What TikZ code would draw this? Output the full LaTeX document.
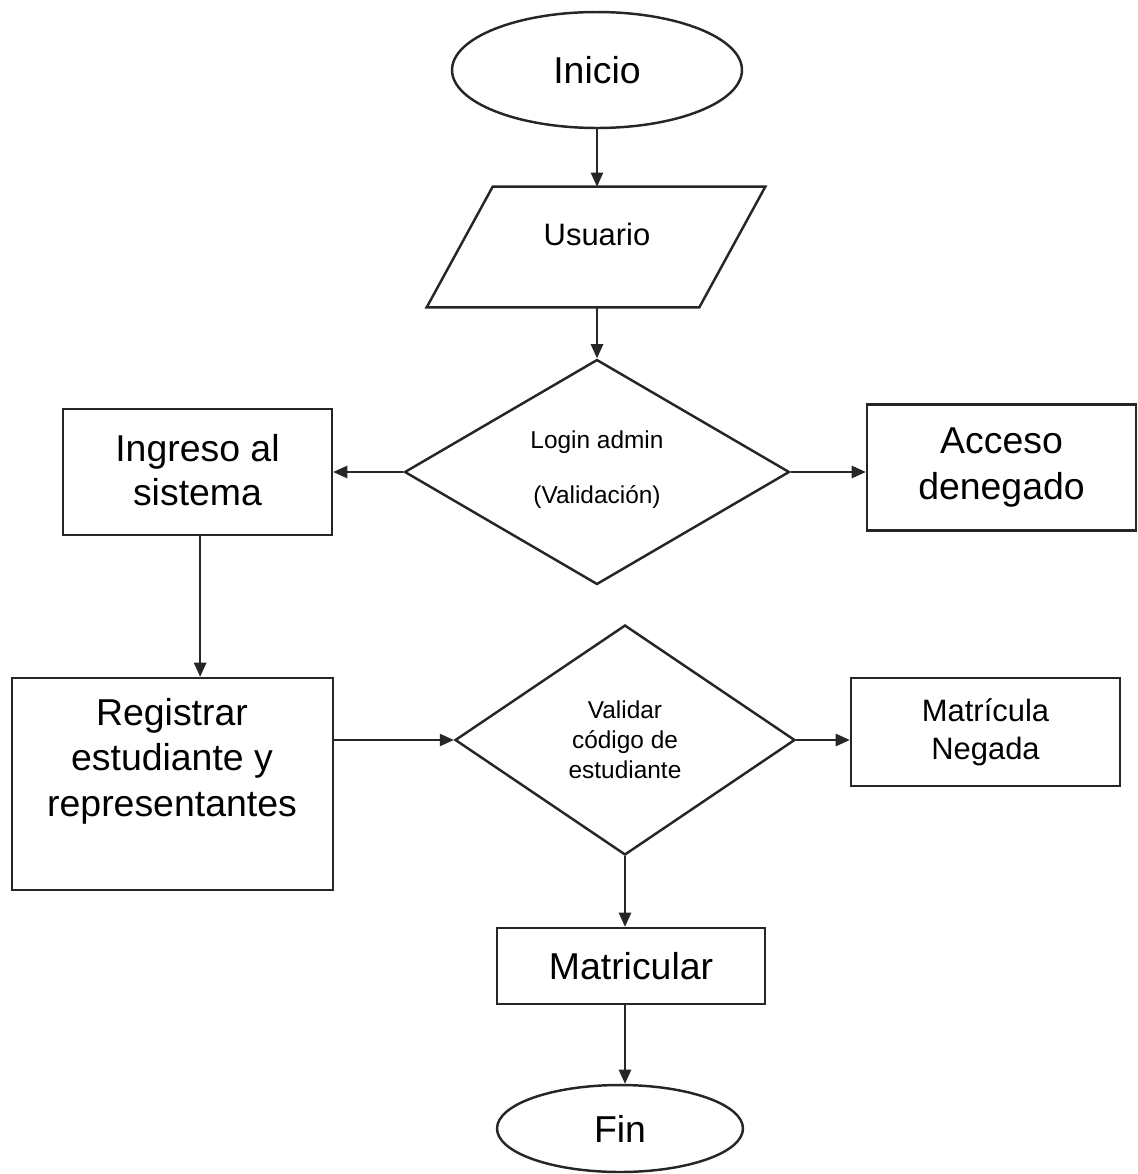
\documentclass[tikz,border=0pt]{standalone}
\usepackage{fontspec}
\setmainfont{Liberation Sans}
\usetikzlibrary{shapes.geometric,arrows.meta,calc}

\tikzset{
  shapeline/.style={draw=black!85, line width=1.4pt},
  terminal/.style={shapeline, ellipse, inner sep=0pt},
  procbox/.style={shapeline, rectangle, inner sep=0pt, align=center},
  decision/.style={shapeline, diamond, inner sep=0pt, align=center},
  bigtext/.style={font=\fontsize{21.3pt}{26pt}\selectfont},
  midtext/.style={font=\fontsize{17.6pt}{21.5pt}\selectfont},
  smalltext/.style={font=\fontsize{13.9pt}{17pt}\selectfont},
  flow/.style={draw=black!85, line width=0.9pt, -{Triangle[length=8pt,width=7pt]}},
}

\begin{document}
\begin{tikzpicture}[x=0.02cm, y=-0.02cm]
  \useasboundingbox (0,0) rectangle (1138,1174);

  % start / end terminals
  \node[terminal, bigtext, minimum width=5.8cm, minimum height=2.32cm] (ini) at (597,70) {Inicio};
  \node[terminal, bigtext, minimum width=4.92cm, minimum height=1.74cm] (fin) at (620,1128.5) {Fin};

  % input: parallelogram drawn around an empty frame node
  \node[minimum width=6.76cm, minimum height=2.4cm, inner sep=0pt] (usu) at (596,247) {};
  \draw[shapeline, line join=miter]
    ($(usu.north west)+(66,0)$) -- (usu.north east)
    -- ($(usu.south east)-(66,0)$) -- (usu.south west) -- cycle;
  \node[midtext] (usutxt) at (597,234) {Usuario};

  % first decision
  \node[decision, minimum width=7.7cm, minimum height=4.5cm] (login) at (597,472) {};
  \node[smalltext] (logintxt1) at (597,442) {Login admin};
  \node[smalltext] (logintxt2) at (597,497) {(Validación)};

  % process boxes
  \node[procbox, bigtext, minimum width=5.38cm, minimum height=2.52cm] (ing) at (197.5,472) {\raisebox{2pt}{\shortstack{Ingreso al\\[2pt]sistema}}};
  \node[procbox, bigtext, minimum width=5.38cm, minimum height=2.52cm] (acc) at (1001.5,467.5) {Acceso\\denegado};

  \node[procbox, minimum width=6.42cm, minimum height=4.24cm] (reg) at (172.5,784) {};
  \node[bigtext, align=center] (regtxt) at (172,761) {Registrar\\estudiante y\\representantes};

  % second decision
  \node[decision, smalltext, minimum width=6.8cm, minimum height=4.6cm] (val) at (625,740) {Validar\\código de\\estudiante};

  \node[procbox, midtext, minimum width=5.38cm, minimum height=2.16cm] (neg) at (985.5,732) {Matrícula\\Negada};
  \node[procbox, bigtext, minimum width=5.36cm, minimum height=1.52cm] (mat) at (631,966) {Matricular};

  % connectors
  \draw[flow] (ini.south) -- (ini.south |- usu.north);
  \draw[flow] (login.north |- usu.south) -- (login.north);
  \draw[flow] (login.west) -- (login.west -| ing.east);
  \draw[flow] (login.east) -- (login.east -| acc.west);
  \draw[flow] ([xshift=1.5pt]ing.south) -- ([xshift=1.5pt]ing.south |- reg.north);
  \draw[flow] (reg.east |- val.west) -- (val.west);
  \draw[flow] (val.east) -- (val.east -| neg.west);
  \draw[flow] (val.south) -- (val.south |- mat.north);
  \draw[flow] (val.south |- mat.south) -- (val.south |- fin.north);
\end{tikzpicture}
\end{document}
